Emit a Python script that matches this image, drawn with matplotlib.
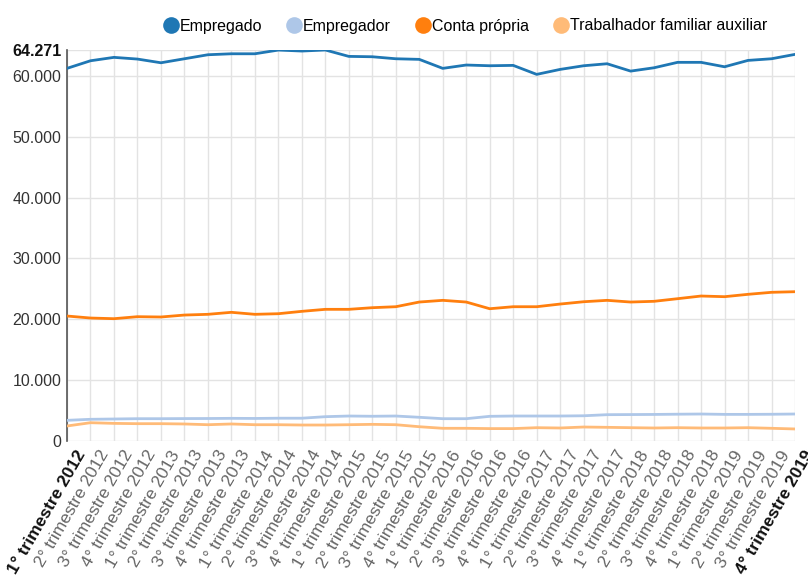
import matplotlib
matplotlib.use("Agg")
import matplotlib.pyplot as plt
import matplotlib.transforms as mtransforms
from matplotlib.lines import Line2D

plt.rcParams['font.family'] = ['Liberation Sans', 'DejaVu Sans']

quarters = []
for yr in range(2012, 2020):
    for q in range(1, 5):
        quarters.append(f"{q}° trimestre {yr}")

empregado = [61250, 62500, 63060, 62780, 62170, 62830, 63490, 63650, 63650, 64260,
             64100, 64271, 63220, 63160, 62830, 62730, 61250, 61800, 61680, 61740,
             60260, 61080, 61680, 62010, 60800, 61350, 62240, 62240, 61510, 62560,
             62830, 63550]
empregador = [3350, 3520, 3570, 3620, 3620, 3640, 3650, 3680, 3660, 3700,
              3700, 3950, 4060, 4020, 4060, 3850, 3620, 3620, 4010, 4060,
              4060, 4060, 4100, 4280, 4300, 4320, 4360, 4390, 4330, 4330,
              4350, 4390]
conta_propria = [20510, 20180, 20070, 20400, 20350, 20670, 20790, 21120, 20790, 20890,
                 21280, 21610, 21610, 21880, 22040, 22810, 23090, 22810, 21710, 22040,
                 22040, 22480, 22860, 23090, 22810, 22930, 23360, 23800, 23690, 24080,
                 24410, 24510]
familiar = [2420, 2960, 2850, 2800, 2800, 2750, 2630, 2750, 2630, 2630,
            2580, 2580, 2630, 2690, 2630, 2300, 2040, 2040, 1990, 1990,
            2140, 2090, 2250, 2200, 2140, 2090, 2140, 2090, 2090, 2140,
            2040, 1930]

series_names = ["Empregado", "Empregador", "Conta própria", "Trabalhador familiar auxiliar"]
series_values = [empregado, empregador, conta_propria, familiar]
colors = ["#1f77b4", "#aec7e8", "#ff7f0e", "#ffbb78"]

y_max = 64271
y_ticks = [0, 10000, 20000, 30000, 40000, 50000, 60000, y_max]

def fmt(v):
    return f"{v:,}".replace(",", ".")

W, H = 808, 582
fig = plt.figure(figsize=(W / 100, H / 100), dpi=100)
left, right, top, bottom = 67, 795, 50, 440.7
ax = fig.add_axes([left / W, 1 - bottom / H, (right - left) / W, (bottom - top) / H])

x = list(range(len(quarters)))
for name, vals, c in zip(series_names, series_values, colors):
    ax.plot(x, vals, color=c, lw=2.0, label=name, solid_capstyle='round', zorder=3)

ax.set_xlim(0, len(quarters) - 1)
ax.set_ylim(0, y_max)
ax.set_xticks(x)
ax.set_yticks(y_ticks)
ax.grid(True, color="#e3e3e3", lw=1.0, zorder=0)
ax.set_axisbelow(True)
for s in ["top", "right", "bottom"]:
    ax.spines[s].set_visible(False)
ax.spines["left"].set_color("#555555")
ax.spines["left"].set_linewidth(1.2)
ax.tick_params(axis='both', length=0)

ax.set_yticklabels([fmt(v) for v in y_ticks], fontsize=11.5, color="#333333")
ylabs = ax.get_yticklabels()
ylabs[-1].set_fontweight('bold')
ylabs[-1].set_color('#111111')
ax.tick_params(axis='y', pad=4)

# x labels drawn as rotated texts anchored at their end, offset from tick
ax.set_xticklabels([""] * len(quarters))
offset = mtransforms.ScaledTranslation(15 / 100, -11 / 100, fig.dpi_scale_trans)
base = mtransforms.blended_transform_factory(ax.transData, ax.transAxes)
for i, q in enumerate(quarters):
    edge = (i == 0 or i == len(quarters) - 1)
    ax.text(i, 0, q, transform=base + offset, rotation=60, rotation_mode='anchor',
            ha='right', va='center', fontsize=12.5,
            color='#111111' if edge else '#666666',
            fontweight='bold' if edge else 'normal', clip_on=False)

handles = [Line2D([], [], marker='o', ls='', markersize=12, color=c,
                  markeredgewidth=0) for c in colors]
fig.legend(handles, series_names, loc='center', ncol=4,
           bbox_to_anchor=(465 / W, 1 - 26 / H), frameon=False,
           fontsize=11.5, handletextpad=0.05, columnspacing=1.5,
           handlelength=1.0, borderaxespad=0)

fig.savefig("out.png", dpi=100)
